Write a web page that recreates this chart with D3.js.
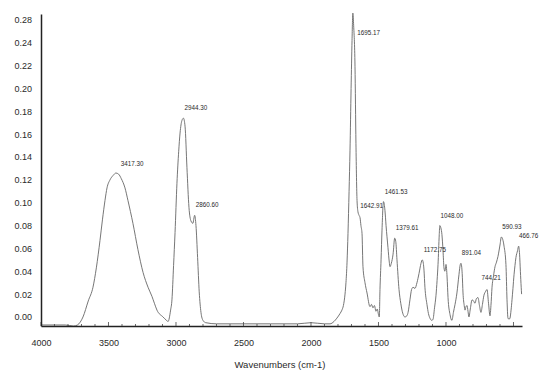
<!DOCTYPE html>
<html>
<head>
<meta charset="utf-8">
<script src="https://cdn.jsdelivr.net/npm/d3@7"></script>
<style>
  body { margin: 0; background: #fff; }
  text { font-family: "Liberation Sans", Arial, sans-serif; fill: #2a2a2a; }
</style>
</head>
<body>
<script>
// spectrum (wavenumber cm-1, absorbance)
const wavenumbers = [4000, 3900, 3820, 3760, 3730, 3689, 3650, 3615, 3590, 3563, 3545, 3526, 3511, 3489, 3465, 3445, 3425, 3405, 3378, 3356, 3319, 3282, 3244, 3207, 3178, 3160, 3141, 3096, 3070, 3059, 3040, 3030, 3018, 3007, 2993, 2980, 2970, 2956, 2945, 2933, 2919, 2904, 2889, 2875, 2862, 2852, 2840, 2828, 2815, 2800, 2780, 2700, 2600, 2500, 2400, 2300, 2200, 2100, 2000, 1900, 1859, 1830, 1808, 1785, 1771, 1760, 1748, 1741, 1733, 1726, 1718, 1711, 1703, 1696, 1690, 1684, 1674, 1667, 1659, 1652, 1644, 1637, 1630, 1622, 1615, 1600, 1585, 1563, 1552, 1541, 1530, 1519, 1509, 1500, 1494, 1489, 1481, 1474, 1463, 1452, 1444, 1430, 1420, 1415, 1405, 1392, 1380, 1372, 1363, 1348, 1335, 1326, 1304, 1290, 1281, 1267, 1255, 1244, 1230, 1215, 1200, 1185, 1176, 1168, 1163, 1156, 1141, 1130, 1119, 1105, 1096, 1085, 1074, 1066, 1059, 1050, 1046, 1038, 1030, 1022, 1015, 1008, 1000, 992, 985, 970, 956, 945, 933, 919, 904, 894, 889, 880, 874, 865, 859, 852, 844, 837, 830, 820, 807, 796, 785, 775, 763, 752, 741, 730, 719, 708, 696, 685, 674, 667, 659, 648, 637, 626, 615, 600, 590, 580, 570, 556, 548, 541, 533, 526, 518, 511, 504, 496, 489, 482, 470, 462, 455, 449, 443, 440];
const absorbance = [-0.007, -0.007, -0.007, -0.008, -0.007, 0.000, 0.014, 0.026, 0.043, 0.067, 0.085, 0.102, 0.113, 0.120, 0.124, 0.126, 0.125, 0.121, 0.113, 0.102, 0.082, 0.059, 0.039, 0.026, 0.018, 0.012, 0.006, 0.000, -0.003, -0.004, 0.006, 0.015, 0.045, 0.074, 0.117, 0.145, 0.161, 0.172, 0.174, 0.167, 0.131, 0.096, 0.084, 0.082, 0.089, 0.080, 0.052, 0.022, 0.004, -0.003, -0.005, -0.006, -0.006, -0.006, -0.006, -0.006, -0.006, -0.006, -0.005, -0.006, -0.006, -0.004, -0.001, 0.003, 0.006, 0.010, 0.020, 0.030, 0.048, 0.073, 0.110, 0.146, 0.200, 0.242, 0.266, 0.255, 0.219, 0.152, 0.102, 0.092, 0.089, 0.087, 0.080, 0.073, 0.044, 0.030, 0.021, 0.009, 0.011, 0.008, 0.010, 0.005, 0.007, 0.002, 0.000, 0.024, 0.050, 0.076, 0.101, 0.093, 0.080, 0.061, 0.048, 0.044, 0.047, 0.055, 0.069, 0.066, 0.050, 0.024, 0.012, 0.006, 0.000, 0.001, 0.004, 0.015, 0.024, 0.026, 0.025, 0.030, 0.038, 0.047, 0.050, 0.047, 0.041, 0.026, 0.011, 0.003, -0.001, -0.003, -0.002, 0.008, 0.019, 0.032, 0.046, 0.072, 0.080, 0.078, 0.072, 0.058, 0.043, 0.040, 0.046, 0.035, 0.017, 0.002, -0.003, 0.004, 0.011, 0.021, 0.037, 0.046, 0.047, 0.038, 0.021, 0.010, 0.006, 0.009, 0.010, 0.005, 0.000, 0.007, 0.015, 0.014, 0.012, 0.016, 0.017, 0.010, 0.004, 0.011, 0.019, 0.022, 0.024, 0.012, 0.001, 0.010, 0.026, 0.036, 0.044, 0.048, 0.053, 0.063, 0.070, 0.068, 0.062, 0.046, 0.015, -0.001, -0.002, -0.001, 0.006, 0.015, 0.025, 0.037, 0.045, 0.052, 0.058, 0.062, 0.055, 0.040, 0.026, 0.020];

// annotated peaks
const peakWavenumbers = [3417.30, 2944.30, 2860.60, 1695.17, 1642.91, 1461.53, 1379.61, 1172.75, 1048.00, 891.04, 744.21, 590.93, 466.76];
const peakAbsorbance = [0.125, 0.174, 0.089, 0.266, 0.088, 0.101, 0.069, 0.050, 0.080, 0.047, 0.025, 0.070, 0.062];

const xTicks = [4000, 3500, 3000, 2500, 2000, 1500, 1000];
const yTicks = [0, 0.02, 0.04, 0.06, 0.08, 0.10, 0.12, 0.14, 0.16, 0.18, 0.20, 0.22, 0.24, 0.26];
const yTickLabels = ["0.00", "0.02", "0.04", "0.06", "0.08", "0.10", "0.12", "0.14", "0.16", "0.18", "0.20", "0.22", "0.24", "0.28"];

const width = 545;
const height = 376;

const svg = d3.select('body')
    .append('svg')
    .attr('width', width)
    .attr('height', height);

const x = d3.scaleLinear().domain([4000, 437]).range([41, 522]);
const y = d3.scaleLinear().domain([-0.0079, 0.2652]).range([326, 14]);

// spectrum
const line = d3.line()
    .x((d, i) => x(wavenumbers[i]))
    .y((d, i) => y(absorbance[i]))
    .curve(d3.curveMonotoneX);

svg.append('path')
    .datum(wavenumbers)
    .attr('d', line)
    .attr('fill', 'none')
    .attr('stroke', '#666')
    .attr('stroke-width', 0.9);

// axes
const xAxis = d3.axisBottom(x)
    .tickValues(xTicks)
    .tickSize(0)
    .tickPadding(14)
    .tickFormat(d3.format('d'));

svg.append('g')
    .attr('transform', 'translate(0,326)')
    .call(xAxis)
    .call(g => g.select('.domain').attr('stroke', '#222').attr('stroke-width', 1.5))
    .call(g => g.selectAll('text').attr('font-size', 9).attr('fill', '#2a2a2a').attr('font-family', '"Liberation Sans", Arial, sans-serif'));

// small inward ticks every 100 cm-1 on the bottom axis
svg.append('g')
    .selectAll('line')
    .data(d3.range(4000, 437, -100))
    .join('line')
    .attr('x1', d => x(d))
    .attr('x2', d => x(d))
    .attr('y1', 326)
    .attr('y2', d => d % 500 === 0 ? 322 : 324)
    .attr('stroke', '#444')
    .attr('stroke-width', 0.8);

const yAxis = d3.axisLeft(y)
    .tickValues(yTicks)
    .tickSize(0)
    .tickPadding(9)
    .tickFormat((d, i) => yTickLabels[i]);

svg.append('g')
    .attr('transform', 'translate(41,0)')
    .call(yAxis)
    .call(g => g.select('.domain').attr('stroke', '#222').attr('stroke-width', 1.5))
    .call(g => g.selectAll('text').attr('font-size', 9).attr('fill', '#2a2a2a').attr('font-family', '"Liberation Sans", Arial, sans-serif'));

// axis title
svg.append('text')
    .attr('x', 280)
    .attr('y', 368)
    .attr('text-anchor', 'middle')
    .attr('font-size', 9.5)
    .text('Wavenumbers (cm-1)');

// peak labels: just above-right of the peak; the tall one sits below the top, beside the line
const labelY = (d, i) => y(peakAbsorbance[i]) - 8;

svg.append('g')
    .selectAll('text')
    .data(peakWavenumbers)
    .join('text')
    .attr('x', (d, i) => x(d) + (labelY(d, i) < 35 ? 5 : 1))
    .attr('y', (d, i) => Math.max(labelY(d, i), 35))
    .attr('font-size', 6.3)
    .attr('fill', '#222')
    .text(d => d3.format('.2f')(d));
</script>
</body>
</html>
